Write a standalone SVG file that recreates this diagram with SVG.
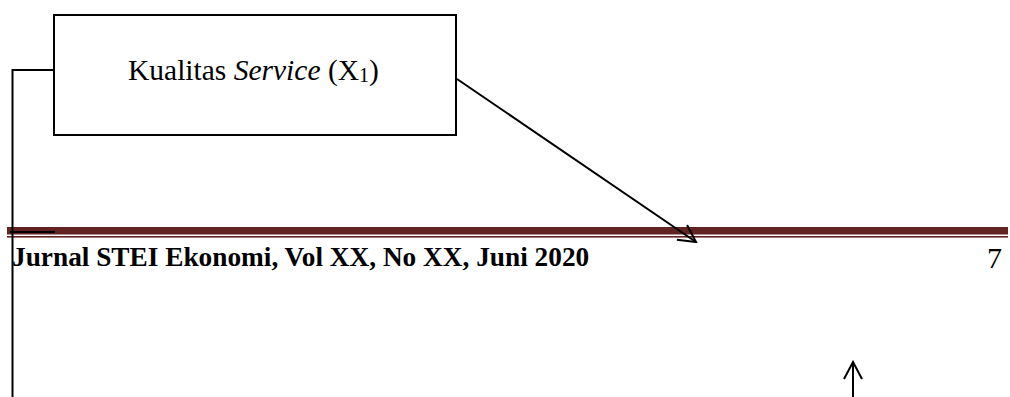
<svg xmlns="http://www.w3.org/2000/svg" width="1010" height="397" viewBox="0 0 1010 397">
<style>
.ln{stroke:#000;stroke-width:2;fill:none}
.t{font-family:"Liberation Serif","Times New Roman",serif;fill:#000}
</style>
<defs>
<marker id="ah" viewBox="0 0 20 20" refX="18" refY="10" markerWidth="20" markerHeight="20" markerUnits="userSpaceOnUse" orient="auto">
<path d="M1,1 L18,10 L1,19" fill="none" stroke="#000" stroke-width="2"/>
</marker>
</defs>
<rect width="1010" height="397" fill="#fff"/>
<g id="header-rule">
<rect x="7" y="227" width="1001" height="7.5" fill="#622423"/>
<rect x="7" y="236" width="1001" height="1.6" fill="#622423"/>
</g>
<g id="footer">
<text class="t" x="12" y="266" font-size="27.3" font-weight="bold">Jurnal STEI Ekonomi, Vol XX, No XX, Juni 2020</text>
<text class="t" x="987" y="268" font-size="30">7</text>
</g>
<g id="node-x1">
<rect x="54" y="15" width="402" height="120" fill="#fff" stroke="#000" stroke-width="2"/>
<text class="t" x="128" y="80" font-size="29.5">Kualitas <tspan font-style="italic">Service</tspan> (X<tspan font-size="20" dy="2">1</tspan><tspan dy="-2">)</tspan></text>
</g>
<g id="connectors">
<polyline class="ln" points="54,70 12.5,70 12.5,397"/>
<line class="ln" x1="10" y1="232" x2="55" y2="232"/>
<line class="ln" x1="457" y1="79" x2="696" y2="242" marker-end="url(#ah)"/>
<line class="ln" x1="853" y1="397" x2="853" y2="362" marker-end="url(#ah)"/>
</g>
</svg>
